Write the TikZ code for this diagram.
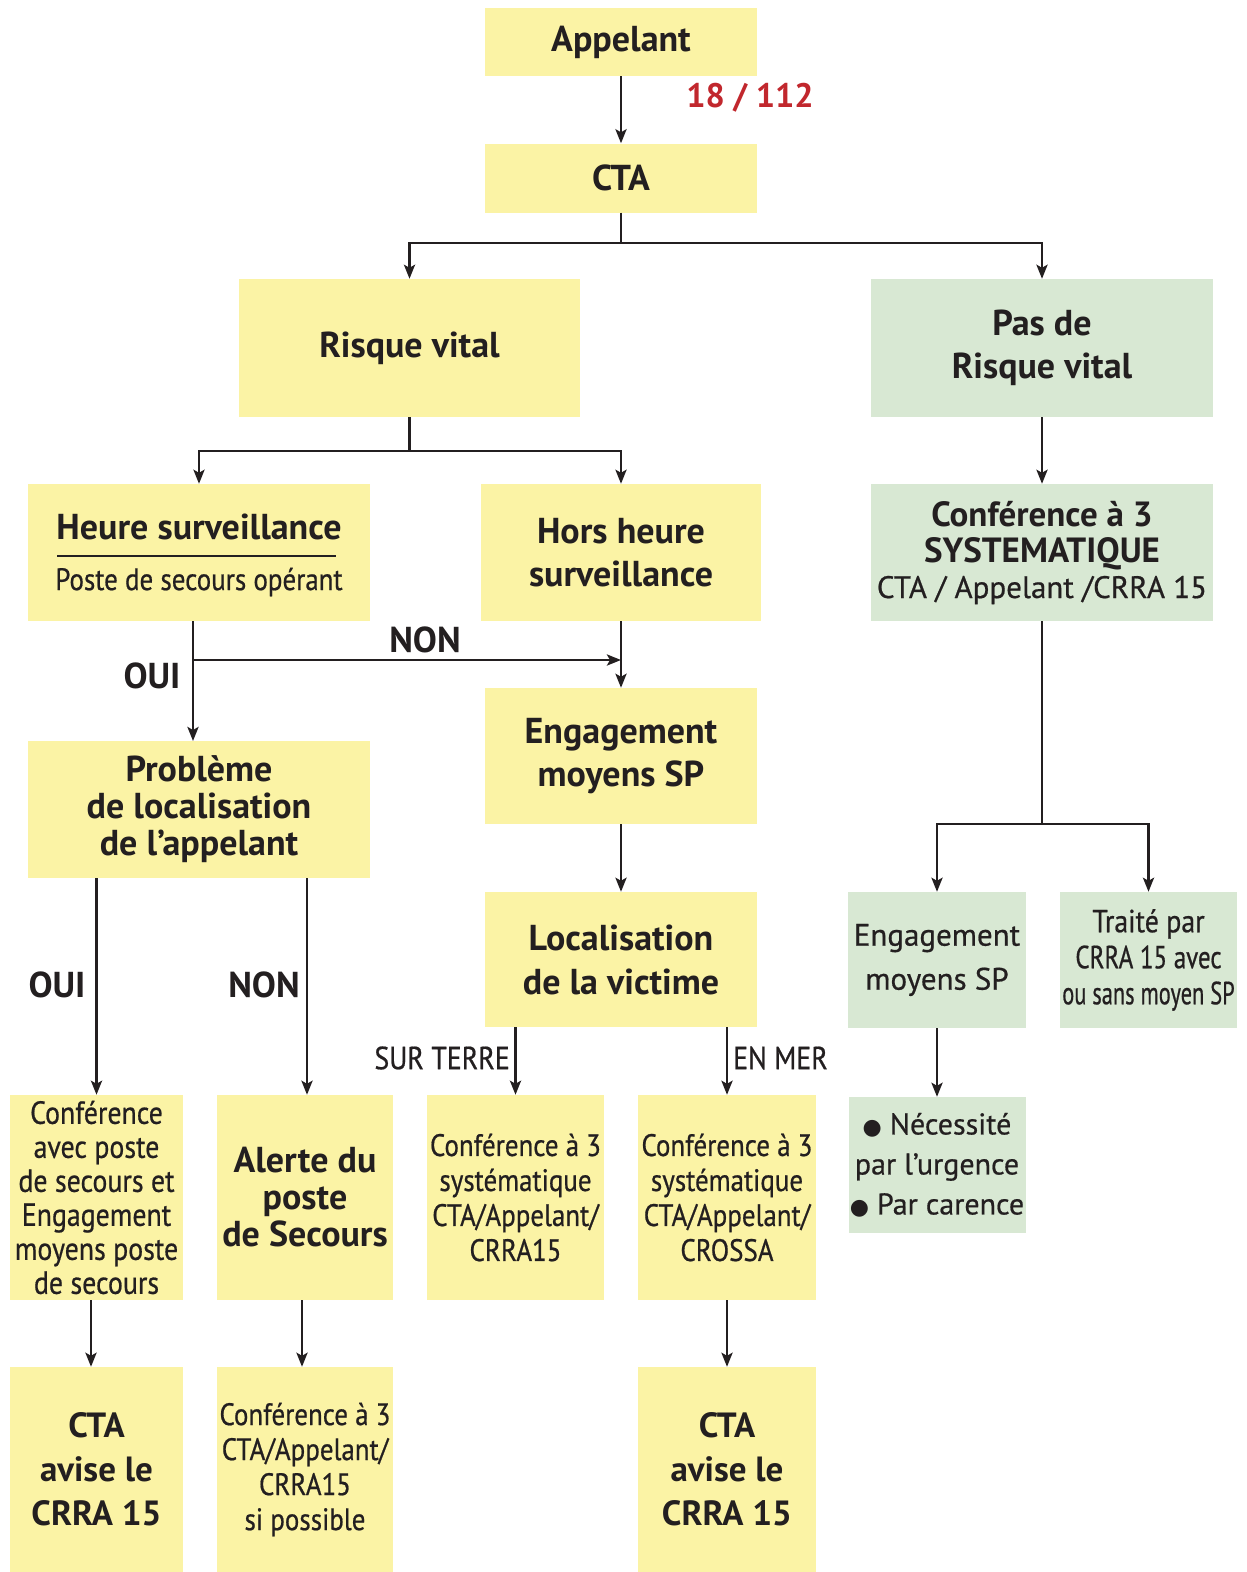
\documentclass[tikz,border=0pt]{standalone}
\usepackage{fontspec}
\setmainfont{PT Sans}
\newfontfamily\cond[FakeStretch=0.87,FakeBold=0.6]{PT Sans}
\newfontfamily\condB[FakeStretch=0.78,FakeBold=0.6]{PT Sans}
\newfontfamily\condC[FakeStretch=0.70,FakeBold=0.6]{PT Sans}
\newfontfamily\reg[FakeBold=0.6]{PT Sans}
\newfontfamily\sym{DejaVu Sans}
\usetikzlibrary{arrows.meta,calc}
\definecolor{boxY}{HTML}{FBF3A5}
\definecolor{boxG}{HTML}{D8E8D3}
\definecolor{txt}{HTML}{231F20}
\definecolor{redn}{HTML}{C1272D}
\newcommand\fsz[2]{\fontsize{#1}{#2}\selectfont}
\begin{document}
\begin{tikzpicture}[x=1pt,y=-1pt,
  box/.style={inner sep=0pt, align=center, text=txt},
  ybox/.style={box, fill=boxY},
  gbox/.style={box, fill=boxG},
  wh/.style 2 args={minimum width=#1pt, minimum height=#2pt},
  arr/.style={line width=2.8pt, draw=txt, -{Stealth[length=14pt,width=11pt,inset=3pt]}},
  ln/.style={line width=2.8pt, draw=txt},
  lbl/.style={text=txt, inner sep=0pt},
  bt/.style={font=\bfseries\fsz{36}{37}},
  ct/.style={font=\cond\fsz{31}{35}},
  lb/.style={lbl, font=\bfseries\fsz{36}{36}}]
\useasboundingbox (0,0) rectangle (1247,1572);

% top
\node[ybox, wh={272}{68}, bt] (app) at (621,42) {Appelant};
\node[lbl, text=redn, font=\bfseries\fsz{34}{36}] (num) at (750,98) {18 / 112};
\node[ybox, wh={272}{69}, bt] (cta) at (621,178) {CTA};

\node[ybox, wh={341}{138}, bt] (risk) at (409.5,348) {Risque vital};
\node[gbox, wh={342}{138}, font=\bfseries\fsz{36}{43}] (pas) at (1042,348) {Pas de\\Risque vital};

% second level
\node[ybox, wh={342}{137}] (heure) at (199,552.5) {};
\node[lbl, font=\bfseries\fsz{36}{36}] (heureA) at (199,527) {Heure surveillance};
\node[lbl, font=\cond\fsz{31}{34}] (heureB) at (199,582) {Poste de secours opérant};
\draw[ln] (57,556) -- (336,556);
\node[ybox, wh={280}{137}, font=\bfseries\fsz{36}{43}] (hors) at (621,552.5) {Hors heure\\surveillance};
\node[gbox, wh={342}{137}, font=\fsz{35}{36}] (sys) at (1042,552.5)
  {\bfseries Conférence à 3\\\bfseries SYSTEMATIQUE\\\reg\fsz{31}{36}CTA / Appelant /CRRA 15};

\node[ybox, wh={272}{136}, font=\bfseries\fsz{36}{43}] (eng) at (621,756) {Engagement\\moyens SP};
\node[ybox, wh={342}{137}, bt] (prob) at (199,809.5) {Problème\\de localisation\\de l’appelant};
\node[ybox, wh={272}{135}, font=\bfseries\fsz{36}{44}] (loc) at (621,959.5) {Localisation\\de la victime};

% right branch
\node[gbox, wh={178}{136}, font=\reg\fsz{31}{44}] (eng2) at (937,960) {Engagement\\moyens SP};
\node[gbox, wh={177}{136}, font=\cond\fsz{32}{36}] (traite) at (1148.5,960)
  {Traité par\\{\condB CRRA 15 avec}\\{\condC ou sans moyen SP}};
\node[gbox, wh={177}{136}, font=\reg\fsz{30}{40}] (nec) at (937,1165)
  {{\sym\fontsize{22}{40}\selectfont ●} Nécessité\\par l’urgence\\{\sym\fontsize{22}{40}\selectfont ●} Par carence};

% row of four
\node[ybox, wh={173}{205}, font=\cond\fsz{32}{34}] (conf1) at (96.5,1197.5)
  {Conférence\\avec  poste\\de secours  et\\Engagement\\moyens poste\\de secours};
\node[ybox, wh={176}{205}, bt] (alerte) at (305,1197.5) {Alerte du\\poste\\de Secours};
\node[ybox, wh={177}{205}, ct] (c3a) at (515.5,1197.5) {Conférence à 3\\systématique\\CTA/Appelant/\\CRRA15};
\node[ybox, wh={178}{205}, ct] (c3b) at (727,1197.5) {Conférence à 3\\systématique\\CTA/Appelant/\\CROSSA};

% bottom row
\node[ybox, wh={173}{205}, font=\bfseries\fsz{35}{44}] (cta2) at (96.5,1469.5) {CTA\\avise le\\CRRA 15};
\node[ybox, wh={176}{205}, ct] (c3c) at (305,1469.5) {Conférence à 3\\CTA/Appelant/\\CRRA15\\si possible};
\node[ybox, wh={178}{205}, font=\bfseries\fsz{35}{44}] (cta3) at (727,1469.5) {CTA\\avise le\\CRRA 15};

% labels
\node[lb] (non1) at (425,640) {NON};
\node[lb] (oui1) at (152,676) {OUI};
\node[lb] (oui2) at (57,985) {OUI};
\node[lb] (non2) at (264,985) {NON};
\node[lbl, font=\cond\fsz{32}{34}, anchor=east] (terre) at (510,1058) {SUR TERRE};
\node[lbl, font=\cond\fsz{32}{34}, anchor=west] (mer) at (733,1058) {EN MER};

% connectors
\draw[arr] (app) -- (cta);
\coordinate (j1) at (621,243);
\draw[ln] (cta.south) -- (j1);
\draw[arr] (j1) -| (risk.north);
\draw[arr] (j1) -| (pas.north);
\coordinate (j2) at (409.5,451);
\draw[ln] (risk.south) -- (j2);
\draw[arr] (j2) -| (heure.north);
\draw[arr] (j2) -| (hors.north);
\draw[arr] (pas) -- (sys);

\coordinate (h1) at (193,621);
\coordinate (h2) at (193,660);
\coordinate (h3) at (193,741);
\draw[arr] (h1) -- (h3);
\draw[arr] (h2) -- (h2 -| hors.south);
\draw[arr] (hors) -- (eng);
\draw[arr] (eng) -- (loc);

\draw[arr] (loc.south -| c3a.north) -- (c3a.north);
\draw[arr] (loc.south -| c3b.north) -- (c3b.north);
\draw[arr] (prob.south -| conf1.north) -- (conf1.north);
\draw[arr] (prob.south -| 307,0) -- (alerte.north -| 307,0);
\draw[arr] (conf1.south -| 91,0) -- (cta2.north -| 91,0);
\draw[arr] (alerte.south -| 302,0) -- (c3c.north -| 302,0);
\draw[arr] (c3b) -- (cta3);

\coordinate (j4) at (1042,824);
\draw[ln] (sys.south) -- (j4);
\draw[arr] (j4) -| (eng2.north);
\draw[arr] (j4) -| (traite.north);
\draw[arr] (eng2) -- (nec);
\end{tikzpicture}
\end{document}
